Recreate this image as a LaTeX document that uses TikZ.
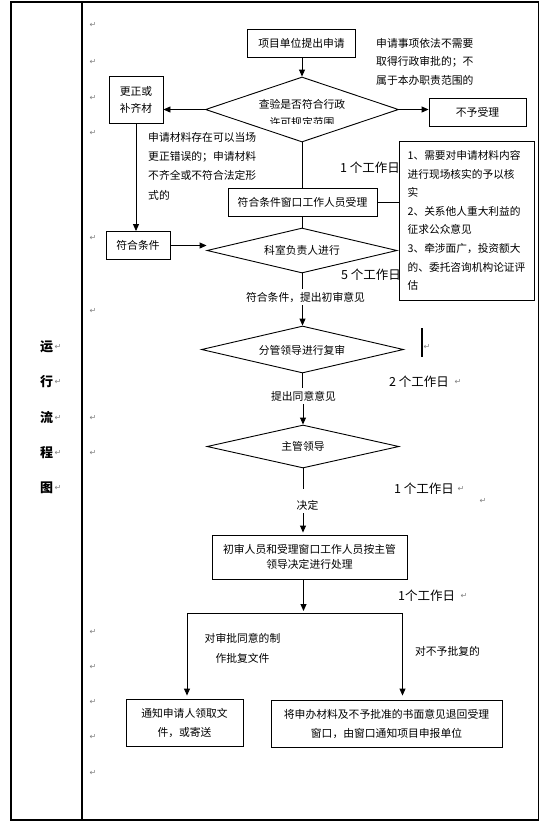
\documentclass[tikz,border=0pt]{standalone}
\usepackage{fontspec}
\setmainfont{Noto Sans CJK SC}
\newfontfamily\djv{DejaVu Sans}
\usetikzlibrary{shapes.geometric,arrows.meta}
\newcommand\fsz[2]{\fontsize{#1}{#2}\selectfont}
\begin{document}
\begin{tikzpicture}[x=1pt,y=-1pt,
  frame/.style={line width=1.2pt},
  box/.style={draw, line width=0.9pt, inner sep=0pt, align=center, font=\fsz{10.8}{17}},
  dia/.style={draw, diamond, line width=0.9pt, inner sep=0pt},
  txt/.style={inner sep=0pt, font=\fsz{10.8}{18}},
  lab/.style={inner sep=3pt, font=\fsz{10.8}{18}},
  day/.style={inner sep=0pt, font=\fsz{12.5}{14}},
  side/.style={inner sep=0pt, font=\bfseries\fsz{13}{14}},
  pm/.style={inner sep=0pt, text=gray, font=\djv\fsz{8}{8}},
  arr/.style={-{Triangle[length=7pt,width=6pt]}, line width=0.9pt},
  ln/.style={line width=0.9pt}]
\useasboundingbox (0,0) rectangle (554,825);
% table frame
\draw[frame] (11,2) rectangle (538.5,820);
\draw[frame] (82,2) -- (82,820);
% left column
\node[side] (c1) at (46.5,347) {运};
\node[side] (c2) at (46.5,382) {行};
\node[side] (c3) at (46.5,417.5) {流};
\node[side] (c4) at (46.5,453) {程};
\node[side] (c5) at (46.5,488) {图};
\foreach \yy [count=\i] in {347,382,417.5,453,488} \node[pm] (sm\i) at (58,\yy) {↵};
\foreach \yy [count=\i] in {25,62,98,133,238,311,418,453,632,667,702,737,773} \node[pm] (pm\i) at (93,\yy) {↵};
% top
\node[box, minimum width=108pt, minimum height=28pt] (n1) at (301.5,43) {项目单位提出申请};
\node[dia, minimum width=193pt, minimum height=65pt] (d1) at (302,109.5) {};
\begin{scope}
\clip (205,92) rectangle (400,123.5);
\node[txt, align=center] (d1t) at (302,113) {查验是否符合行政\\许可规定范围};
\end{scope}
\node[box, minimum width=54pt, minimum height=47pt] (fix) at (136,99.5) {更正或\\补齐材};
\node[box, minimum width=97pt, minimum height=28pt] (no) at (477.5,112) {不予受理};
\node[txt, align=left, anchor=west, font=\fsz{10.8}{18.5}] (t0) at (376,61.5) {申请事项依法不需要\\取得行政审批的；不\\属于本办职责范围的};
\node[txt, align=left, anchor=west, font=\fsz{10.8}{19.3}] (tfix) at (148,166) {申请材料存在可以当场\\更正错误的；申请材料\\不齐全或不符合法定形\\式的};
\node[box, minimum width=149pt, minimum height=28pt] (acc) at (302.5,202) {符合条件窗口工作人员受理};
\node[box, minimum width=64pt, minimum height=28pt] (cond) at (138,245.5) {符合条件};
\node[dia, minimum width=190pt, minimum height=45pt] (d2) at (302,250.5) {};
\node[txt] (d2t) at (302,250) {科室负责人进行};
\node[day, anchor=west] (w1) at (340,168) {1 个工作日};
\node[day, anchor=west] (w5) at (341,275) {5 个工作日};
\node[box, fill=white, align=left, minimum width=135pt, minimum height=159pt, font=\fsz{10.7}{18.6}] (rb) at (466.5,220.5) {1、需要对申请材料内容\\进行现场核实的予以核\\实\\2、关系他人重大利益的\\征求公众意见\\3、牵涉面广，投资额大\\的、委托咨询机构论证评\\估};
% connectors top
\draw[arr] (n1.south -| d1.north) -- (d1.north);
\draw[arr] (d1.west) -- (d1.west -| fix.east);
\draw[arr] (d1.east) -- (d1.east -| no.west);
\draw[ln] (d1.south) -- (d1.south |- acc.north);
\draw[ln] (acc.east) -- (acc.east -| rb.west);
\draw[ln] (acc.south -| d2.north) -- (d2.north);
\draw[arr] (fix.south) -- (fix.south |- cond.north);
\draw[arr] (cond.east) -- (cond.east -| d2.west);
% middle
\node[lab] (t1) at (305.5,297) {符合条件，提出初审意见};
\node[dia, minimum width=202pt, minimum height=47pt] (d3) at (302.5,349.5) {};
\node[txt] (d3t) at (302,350) {分管领导进行复审};
\draw[ln] (d2.south) -- (d2.south |- t1.north);
\draw[arr] (d3.north |- t1.south) -- (d3.north);
\draw[line width=1.6pt] (422,328) -- (422,357);
\node[pm] (pmc) at (427,347) {↵};
\node[lab] (t2) at (303.5,396) {提出同意意见};
\node[dia, minimum width=192pt, minimum height=43pt] (d4) at (303,446.5) {};
\node[txt] (d4t) at (303,446) {主管领导};
\draw[ln] (d3.south) -- (d3.south |- t2.north);
\draw[arr] (d4.north |- t2.south) -- (d4.north);
\node[day, anchor=west] (w2) at (389,382) {2 个工作日};
\node[pm] (pmw2) at (458,382) {↵};
\node[day, anchor=west] (w1b) at (394,488.5) {1 个工作日};
\node[pm] (pmw1b) at (461,488.5) {↵};
\node[pm] (pmx) at (483,501) {↵};
\node[lab] (t3) at (307.5,505) {决定};
\node[box, minimum width=195pt, minimum height=44pt, font=\fsz{10.8}{15.5}] (proc) at (309.5,557) {初审人员和受理窗口工作人员按主管\\领导决定进行处理};
\draw[ln] (d4.south) -- ([yshift=8pt]d4.south |- t3.north);
\draw[arr, shorten >=2pt] (d4.south |- t3.south) -- (d4.south |- proc.north);
% bottom
\coordinate (jm) at (303.5,613);
\coordinate (jl) at (187,613);
\coordinate (jr) at (402.5,613);
\node[day, anchor=west] (w1c) at (398,595.5) {1个工作日};
\node[pm] (pmw1c) at (464,595.5) {↵};
\node[box, minimum width=117pt, minimum height=47pt, font=\fsz{10.8}{19}] (notify) at (184.5,722.5) {通知申请人领取文\\件，或寄送};
\node[box, minimum width=231pt, minimum height=47pt, font=\fsz{10.8}{19}] (ret) at (386.5,723.5) {将申办材料及不予批准的书面意见退回受理\\窗口，由窗口通知项目申报单位};
\node[txt, align=center, font=\fsz{10.8}{20}] (ta) at (242.5,648) {对审批同意的制\\作批复文件};
\node[txt] (tb) at (447.5,651) {对不予批复的};
\draw[arr, shorten >=2pt] (proc.south -| jm) -- (jm);
\draw[ln] (jl) -- (jr);
\draw[arr, shorten >=3pt] (jl) -- (jl |- notify.north);
\draw[arr, shorten >=4pt] (jr) -- (jr |- ret.north);
\end{tikzpicture}
\end{document}
